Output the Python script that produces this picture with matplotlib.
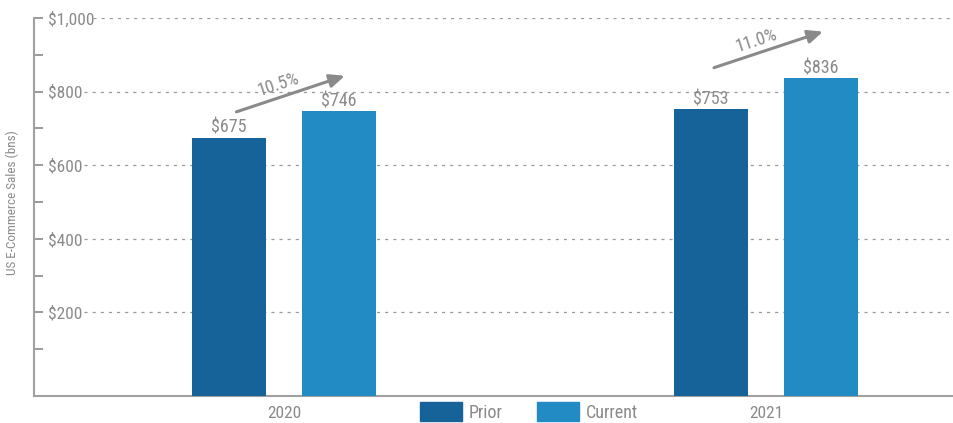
import matplotlib
matplotlib.use("Agg")
import matplotlib.pyplot as plt
from matplotlib import font_manager
from matplotlib.patches import Patch
import numpy as np

years = ["2020", "2021"]
prior = [675, 753]
current = [746, 836]
growth = ["10.5%", "11.0%"]
yticks = [200, 400, 600, 800, 1000]
ytick_labels = ["$200", "$400", "$600", "$800", "$1,000"]

PRIOR_C = "#156398"
CURR_C = "#238BC4"
GREY = "#8a8a8a"
FS = 12.5

have = {f.name for f in font_manager.fontManager.ttflist}
fam = [f for f in ("Roboto Condensed", "Liberation Sans Narrow", "Roboto") if f in have]
plt.rcParams["font.family"] = fam + ["DejaVu Sans"]

fig = plt.figure(figsize=(9.54, 4.23), dpi=100)
ax = fig.add_axes([34 / 954, 27 / 423, 920 / 954, 378 / 423])
ymin = -27
ax.set_ylim(ymin, 1000)
ax.set_xlim(-0.519, 1.39)

x = np.arange(len(years))
w = 0.1535
off = 0.114
b1 = ax.bar(x - off, np.array(prior) - ymin, w, bottom=ymin, color=PRIOR_C, zorder=3)
b2 = ax.bar(x + off, np.array(current) - ymin, w, bottom=ymin, color=CURR_C, zorder=3)
for bars, vals in ((b1, prior), (b2, current)):
    for rect, v in zip(bars, vals):
        ax.annotate(f"${v}", (rect.get_x() + rect.get_width() / 2, v),
                    textcoords="offset points", xytext=(0, 0.5),
                    ha="center", va="bottom", fontsize=FS + 0.5, color=GREY)

# growth arrows (start above prior bar, end above current bar)
arrow_lift = [(70, 97), (112, 127)]
arrow_dx = [(0.015, 0.012), (0.006, 0.004)]
for i, (g, (l0, l1), (d0, d1)) in enumerate(zip(growth, arrow_lift, arrow_dx)):
    x0, y0 = i - off + d0, prior[i] + l0
    x1, y1 = i + off + d1, current[i] + l1
    ax.annotate("", xy=(x1, y1), xytext=(x0, y0),
                arrowprops=dict(arrowstyle="-|>,head_length=0.9,head_width=0.4",
                                color=GREY, lw=2.2, shrinkA=0, shrinkB=0))
    ax.annotate(g, ((x0 + x1) / 2, (y0 + y1) / 2), textcoords="offset points",
                xytext=(-9, 6.5), ha="center", va="center", rotation=18,
                fontsize=FS + 0.5, color=GREY)

# y axis: ticks and labels inside
ax.set_yticks(yticks)
ax.set_yticklabels(ytick_labels)
ax.set_yticks([100, 300, 500, 700, 900], minor=True)
ax.tick_params(axis="y", which="both", direction="in", length=6.5, width=1.2,
               color=GREY, labelcolor=GREY, labelsize=FS, pad=-10)
for lab in ax.get_yticklabels():
    lab.set_horizontalalignment("left")
grid_start = [0.054, 0.054, 0.054, 0.054, 0.064]
for yv, xs in zip(yticks, grid_start):
    ax.axhline(yv, xmin=xs, xmax=1, color="#9a9a9a", lw=0.9,
               ls=(0, (2.5, 4)), zorder=1)

ax.set_xticks(x)
ax.set_xticklabels(years)
ax.tick_params(axis="x", length=0, labelsize=FS, labelcolor=GREY, pad=7)

for s in ("top", "right"):
    ax.spines[s].set_visible(False)
for s in ("left", "bottom"):
    ax.spines[s].set_color("#a0a0a0")
    ax.spines[s].set_linewidth(1.5)

fig.text(12 / 954, (423 - 203) / 423, "US E-Commerce Sales (bns)", rotation=90,
         ha="center", va="center", fontsize=9.5, color=GREY)

handles = [Patch(color=PRIOR_C, label="Prior"), Patch(color=CURR_C, label="Current")]
leg = fig.legend(handles=handles, loc="center", bbox_to_anchor=(529 / 954, 11 / 423),
                 ncol=2, frameon=False, fontsize=FS + 0.5, handlelength=2.3,
                 handleheight=1.2, handletextpad=0.4, columnspacing=1.9,
                 borderpad=0)
for t in leg.get_texts():
    t.set_color(GREY)

fig.savefig("out.png", dpi=100)
